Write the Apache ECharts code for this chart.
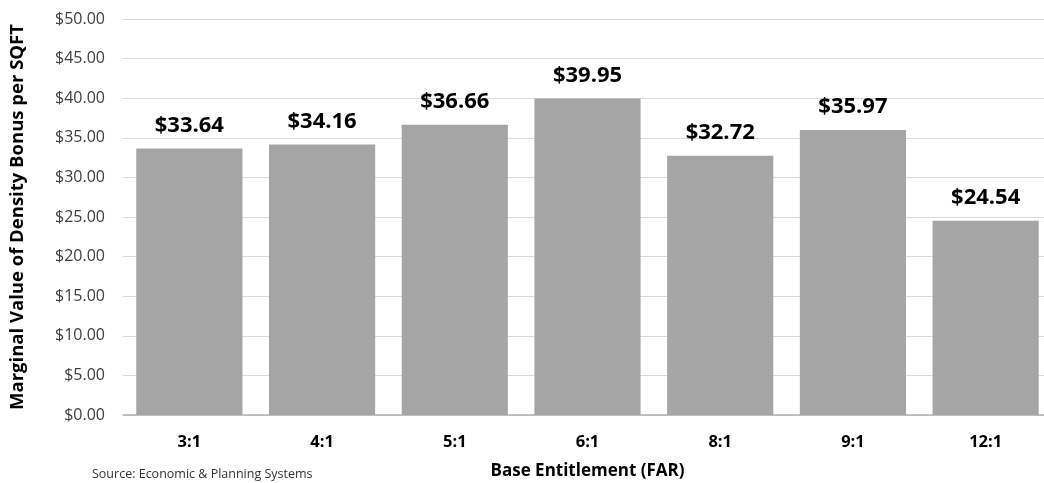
<!DOCTYPE html>
<html>
<head>
<meta charset="utf-8">
<script src="https://cdn.jsdelivr.net/npm/echarts@6/dist/echarts.min.js"></script>
<style>
  html, body { margin: 0; padding: 0; background: #fff; }
  #chart { width: 1044px; height: 483px; }
</style>
</head>
<body>
<div id="chart"></div>
<script>
// Base FAR entitlement categories and marginal density bonus value ($/sqft)
const categories = ['3:1', '4:1', '5:1', '6:1', '8:1', '9:1', '12:1'];
const values = [33.64, 34.16, 36.66, 39.95, 32.72, 35.97, 24.54];
const yTicks = { min: 0, max: 50, step: 5 };

const font = '"Open Sans", "Liberation Sans", sans-serif';
const money = v => '$' + Number(v).toFixed(2);

const chart = echarts.init(document.getElementById('chart'), null, { renderer: 'canvas' });
chart.setOption({
  animation: false,
  backgroundColor: '#ffffff',
  textStyle: { fontFamily: font },
  grid: { left: 123, top: 19, width: 929, bottom: 68, outerBoundsMode: 'none', containLabel: false },
  title: {
    text: 'Source: Economic & Planning Systems',
    left: 87, top: 463,
    textStyle: { fontFamily: font, fontSize: 12.5, fontWeight: 'normal', color: '#333' }
  },
  xAxis: {
    type: 'category',
    data: categories,
    name: 'Base Entitlement (FAR)',
    nameLocation: 'middle',
    nameGap: 48,
    nameTextStyle: { fontFamily: font, fontSize: 17, fontWeight: 'bold', color: '#000' },
    axisLine: { show: true, lineStyle: { color: '#b4b4b4', width: 1.5 } },
    axisTick: { show: false },
    axisLabel: { margin: 19, fontFamily: font, fontSize: 16.5, fontWeight: 'bold', color: '#000' }
  },
  yAxis: {
    type: 'value',
    min: yTicks.min, max: yTicks.max, interval: yTicks.step,
    name: 'Marginal Value of Density Bonus per SQFT',
    nameLocation: 'middle',
    nameGap: 96,
    nameRotate: 90,
    nameTextStyle: { fontFamily: font, fontSize: 18.5, fontWeight: 'bold', color: '#000' },
    axisLine: { show: false },
    axisTick: { show: false },
    splitLine: { lineStyle: { color: '#d9d9d9', width: 1 } },
    axisLabel: { margin: 18, fontFamily: font, fontSize: 16, color: '#404040', formatter: money }
  },
  series: [{
    type: 'bar',
    data: values,
    barCategoryGap: '20%',
    itemStyle: { color: '#a5a5a5' },
    label: {
      show: true,
      position: 'top',
      distance: 12,
      formatter: p => money(p.value),
      fontFamily: font, fontSize: 22, fontWeight: 'bold', color: '#000'
    }
  }]
});
</script>
</body>
</html>
